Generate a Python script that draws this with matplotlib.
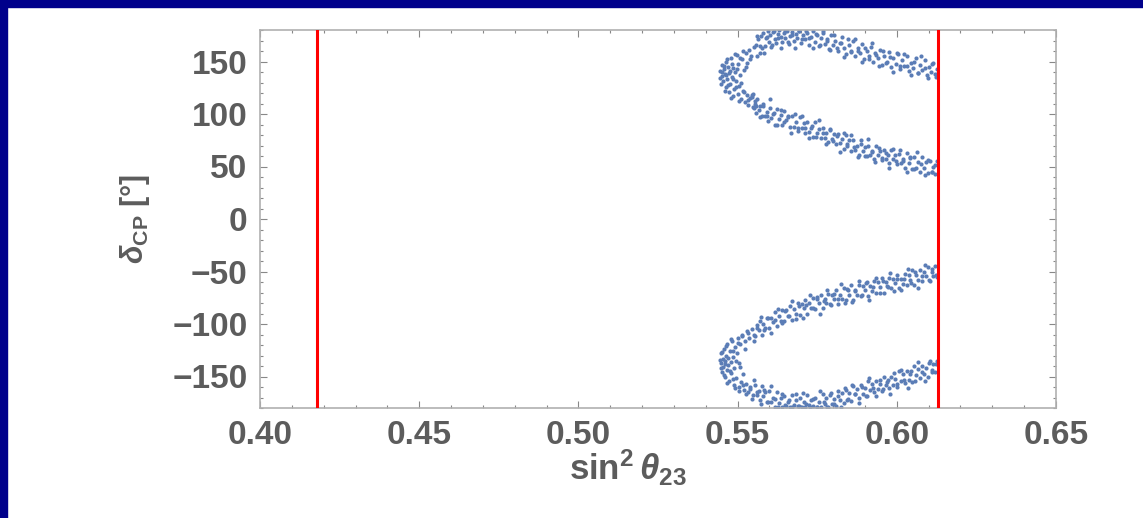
import numpy as np
import matplotlib.pyplot as plt
from matplotlib.patches import Rectangle
from matplotlib.ticker import MultipleLocator, FormatStrFormatter

plt.rcParams['font.family'] = ['Liberation Sans', 'DejaVu Sans']
plt.rcParams['mathtext.fontset'] = 'custom'
plt.rcParams['mathtext.rm'] = 'Liberation Sans:bold'
plt.rcParams['mathtext.it'] = 'Liberation Sans:italic:bold'
plt.rcParams['mathtext.bf'] = 'Liberation Sans:bold'

# bounds of the allowed sin^2(theta23) range (red lines)
bounds = [0.418, 0.613]

# upper band (delta > 0): vertex, upper arm, lower arm  -> (sin2_23, delta_cp)
upper_vertex = [(0.5446, 141), (0.5450, 136), (0.5452, 147), (0.5455, 131), (0.5458, 143), (0.5460, 138),
                (0.5462, 126), (0.5465, 150), (0.5467, 133), (0.5470, 145), (0.5472, 121), (0.5474, 139),
                (0.5477, 129), (0.5480, 153), (0.5482, 135), (0.5484, 117), (0.5487, 144), (0.5490, 124),
                (0.5492, 140), (0.5494, 131), (0.5497, 156), (0.5500, 119), (0.5502, 148), (0.5505, 127),
                (0.5508, 137), (0.5511, 114), (0.5513, 152), (0.5516, 122), (0.5519, 142), (0.5522, 111),
                (0.5525, 158), (0.5528, 118), (0.5531, 149), (0.5534, 109), (0.5537, 161), (0.5540, 115),
                (0.5543, 155), (0.5547, 107), (0.5550, 164), (0.5554, 112),
                (0.5444, 134), (0.5448, 129), (0.5451, 140), (0.5456, 146), (0.5459, 122), (0.5463, 137),
                (0.5468, 152), (0.5471, 128), (0.5476, 141), (0.5479, 115), (0.5483, 148), (0.5486, 133),
                (0.5491, 157), (0.5496, 126), (0.5499, 143), (0.5503, 112), (0.5507, 153), (0.5512, 130),
                (0.5516, 160), (0.5521, 121), (0.5527, 145), (0.5532, 113), (0.5538, 152), (0.5545, 118)]
upper_arm_hi = [(0.5558, 166), (0.5561, 155), (0.5565, 171), (0.5569, 158), (0.5573, 174), (0.5577, 163),
                (0.5581, 177), (0.5585, 165), (0.5590, 172), (0.5594, 179), (0.5598, 169), (0.5603, 175),
                (0.5607, 166), (0.5612, 178), (0.5616, 171), (0.5621, 168), (0.5626, 176), (0.5630, 180),
                (0.5635, 173), (0.5640, 169), (0.5645, 177), (0.5650, 172), (0.5655, 179), (0.5660, 167),
                (0.5665, 174), (0.5671, 178), (0.5676, 170), (0.5682, 176), (0.5688, 172), (0.5694, 179),
                (0.5700, 168), (0.5706, 175), (0.5712, 171), (0.5718, 177), (0.5724, 166), (0.5730, 173),
                (0.5736, 179), (0.5742, 169), (0.5748, 175), (0.5755, 165), (0.5761, 172), (0.5767, 177),
                (0.5774, 167), (0.5780, 171), (0.5787, 162), (0.5793, 175), (0.5800, 166), (0.5807, 170),
                (0.5814, 160), (0.5821, 168), (0.5828, 173), (0.5835, 163), (0.5842, 157), (0.5849, 166),
                (0.5856, 160), (0.5863, 170), (0.5870, 155), (0.5877, 163), (0.5884, 158), (0.5891, 167),
                (0.5898, 152), (0.5905, 160), (0.5912, 155), (0.5919, 164), (0.5926, 150), (0.5933, 158),
                (0.5940, 153), (0.5947, 161), (0.5954, 147), (0.5961, 155), (0.5968, 150), (0.5975, 159),
                (0.5982, 145), (0.5989, 153), (0.5996, 148), (0.6003, 157), (0.6010, 143), (0.6017, 151),
                (0.6024, 146), (0.6031, 155), (0.6038, 141), (0.6045, 149), (0.6052, 144), (0.6059, 153),
                (0.6066, 139), (0.6073, 147), (0.6080, 142), (0.6087, 151), (0.6094, 137), (0.6101, 145),
                (0.6108, 140), (0.6115, 149), (0.6122, 135), (0.6126, 143), (0.6127, 138),
                (0.5560, 174), (0.5571, 165), (0.5582, 158), (0.5593, 173), (0.5604, 164), (0.5615, 179),
                (0.5626, 172), (0.5637, 163), (0.5648, 179), (0.5659, 169), (0.5670, 175), (0.5681, 163),
                (0.5692, 179), (0.5703, 171), (0.5714, 179), (0.5725, 172), (0.5736, 163), (0.5747, 176),
                (0.5758, 166), (0.5769, 179), (0.5780, 170), (0.5791, 161), (0.5802, 175), (0.5813, 163),
                (0.5824, 168), (0.5835, 154), (0.5846, 171), (0.5857, 159), (0.5868, 171), (0.5879, 160),
                (0.5890, 150), (0.5901, 163), (0.5912, 152), (0.5923, 168), (0.5934, 156), (0.5945, 146),
                (0.5956, 160), (0.5967, 149), (0.5978, 154), (0.5989, 140), (0.6000, 158), (0.6011, 146),
                (0.6022, 157), (0.6033, 146), (0.6044, 137), (0.6055, 150), (0.6066, 139), (0.6077, 155),
                (0.6088, 144), (0.6099, 134), (0.6110, 148), (0.6121, 138)]
upper_arm_lo = [(0.5545, 116), (0.5550, 106), (0.5554, 110), (0.5558, 101), (0.5562, 114), (0.5567, 104),
                (0.5571, 108), (0.5576, 98), (0.5581, 108), (0.5586, 98), (0.5591, 102), (0.5596, 93),
                (0.5601, 106), (0.5606, 96), (0.5611, 100), (0.5617, 90), (0.5623, 105), (0.5629, 95),
                (0.5635, 99), (0.5641, 90), (0.5647, 103), (0.5653, 94), (0.5659, 98), (0.5665, 88),
                (0.5671, 98), (0.5677, 88), (0.5683, 92), (0.5689, 84), (0.5695, 97), (0.5701, 87),
                (0.5707, 91), (0.5713, 82), (0.5719, 92), (0.5725, 83), (0.5731, 87), (0.5737, 78),
                (0.5743, 92), (0.5749, 82), (0.5755, 86), (0.5761, 77), (0.5767, 87), (0.5773, 77),
                (0.5779, 82), (0.5785, 73), (0.5791, 86), (0.5797, 76), (0.5803, 81), (0.5809, 71),
                (0.5815, 81), (0.5821, 72), (0.5827, 76), (0.5833, 67), (0.5839, 80), (0.5845, 71),
                (0.5851, 75), (0.5857, 65), (0.5863, 75), (0.5869, 66), (0.5875, 70), (0.5881, 61),
                (0.5887, 75), (0.5893, 65), (0.5899, 69), (0.5905, 60), (0.5911, 70), (0.5917, 61),
                (0.5923, 65), (0.5929, 57), (0.5935, 70), (0.5941, 61), (0.5947, 65), (0.5953, 56),
                (0.5959, 66), (0.5965, 57), (0.5971, 61), (0.5977, 53), (0.5983, 66), (0.5989, 57),
                (0.5995, 61), (0.6001, 52), (0.6007, 62), (0.6013, 53), (0.6019, 57), (0.6025, 49),
                (0.6031, 63), (0.6037, 53), (0.6043, 58), (0.6049, 48), (0.6055, 59), (0.6061, 49),
                (0.6067, 54), (0.6073, 45), (0.6079, 59), (0.6085, 49), (0.6091, 54), (0.6097, 44),
                (0.6103, 55), (0.6109, 45), (0.6115, 50), (0.6121, 43), (0.6126, 55),
                (0.5548, 119), (0.5559, 108), (0.5570, 97), (0.5581, 110), (0.5592, 98), (0.5603, 114),
                (0.5614, 101), (0.5625, 90), (0.5636, 104), (0.5647, 92), (0.5658, 97), (0.5669, 82),
                (0.5680, 100), (0.5691, 87), (0.5702, 98), (0.5713, 87), (0.5724, 77), (0.5735, 89),
                (0.5746, 78), (0.5757, 94), (0.5768, 82), (0.5779, 71), (0.5790, 85), (0.5801, 74),
                (0.5812, 79), (0.5823, 64), (0.5834, 82), (0.5845, 70), (0.5856, 80), (0.5867, 69),
                (0.5878, 59), (0.5889, 71), (0.5900, 60), (0.5911, 76), (0.5922, 64), (0.5933, 54),
                (0.5944, 68), (0.5955, 58), (0.5966, 63), (0.5977, 49), (0.5988, 67), (0.5999, 55),
                (0.6010, 66), (0.6021, 55), (0.6032, 45), (0.6043, 59), (0.6054, 48), (0.6065, 64),
                (0.6076, 52), (0.6087, 42), (0.6098, 56), (0.6109, 45), (0.6120, 51)]

# lower band (delta < 0)
lower_vertex = [(0.5447, -137), (0.5449, -128), (0.5451, -146), (0.5453, -133), (0.5455, -141), (0.5457, -124),
                (0.5459, -150), (0.5461, -135), (0.5463, -130), (0.5466, -144), (0.5468, -119), (0.5470, -139),
                (0.5473, -154), (0.5475, -126), (0.5478, -136), (0.5480, -147), (0.5483, -116), (0.5485, -131),
                (0.5488, -158), (0.5490, -142), (0.5493, -122), (0.5495, -151), (0.5498, -128), (0.5500, -113),
                (0.5503, -160), (0.5505, -137), (0.5508, -119), (0.5511, -155), (0.5514, -110), (0.5517, -148),
                (0.5520, -163), (0.5523, -116), (0.5526, -157), (0.5530, -107), (0.5533, -165), (0.5536, -113),
                (0.5540, -160), (0.5544, -105), (0.5548, -168), (0.5552, -110),
                (0.5444, -134), (0.5448, -142), (0.5452, -127), (0.5456, -149), (0.5459, -138), (0.5463, -121),
                (0.5467, -156), (0.5471, -132), (0.5476, -145), (0.5479, -114), (0.5484, -152), (0.5487, -126),
                (0.5492, -161), (0.5496, -135), (0.5500, -118), (0.5505, -164), (0.5509, -141), (0.5513, -111),
                (0.5518, -158), (0.5522, -124), (0.5527, -167), (0.5532, -109), (0.5538, -162), (0.5545, -171)]
lower_arm_hi = [(0.5556, -111), (0.5561, -101), (0.5566, -106), (0.5571, -97), (0.5576, -110), (0.5581, -100),
                (0.5587, -104), (0.5593, -94), (0.5599, -104), (0.5605, -94), (0.5611, -98), (0.5617, -89),
                (0.5623, -102), (0.5629, -92), (0.5635, -97), (0.5641, -87), (0.5647, -97), (0.5653, -87),
                (0.5659, -92), (0.5665, -83), (0.5671, -96), (0.5677, -86), (0.5683, -90), (0.5689, -80),
                (0.5695, -91), (0.5701, -81), (0.5707, -85), (0.5713, -77), (0.5719, -90), (0.5725, -80),
                (0.5731, -85), (0.5737, -75), (0.5743, -86), (0.5749, -76), (0.5755, -80), (0.5761, -72),
                (0.5767, -85), (0.5773, -76), (0.5779, -80), (0.5785, -71), (0.5791, -81), (0.5797, -72),
                (0.5803, -76), (0.5809, -68), (0.5815, -81), (0.5821, -72), (0.5827, -76), (0.5833, -66),
                (0.5839, -77), (0.5845, -67), (0.5851, -72), (0.5857, -63), (0.5863, -77), (0.5869, -68),
                (0.5875, -72), (0.5881, -63), (0.5887, -73), (0.5893, -64), (0.5899, -68), (0.5905, -60),
                (0.5911, -73), (0.5917, -64), (0.5923, -69), (0.5929, -59), (0.5935, -70), (0.5941, -60),
                (0.5947, -65), (0.5953, -56), (0.5959, -70), (0.5965, -60), (0.5971, -65), (0.5977, -56),
                (0.5983, -66), (0.5989, -57), (0.5995, -61), (0.6001, -53), (0.6007, -66), (0.6013, -57),
                (0.6019, -62), (0.6025, -52), (0.6031, -63), (0.6037, -53), (0.6043, -58), (0.6049, -49),
                (0.6055, -63), (0.6061, -53), (0.6067, -58), (0.6073, -49), (0.6079, -59), (0.6085, -50),
                (0.6091, -54), (0.6097, -46), (0.6103, -59), (0.6109, -50), (0.6115, -54), (0.6121, -45),
                (0.6126, -55),
                (0.5550, -116), (0.5561, -104), (0.5572, -93), (0.5583, -106), (0.5594, -94), (0.5605, -109),
                (0.5616, -96), (0.5627, -86), (0.5638, -99), (0.5649, -88), (0.5660, -92), (0.5671, -78),
                (0.5682, -95), (0.5693, -83), (0.5704, -94), (0.5715, -82), (0.5726, -72), (0.5737, -85),
                (0.5748, -74), (0.5759, -90), (0.5770, -78), (0.5781, -68), (0.5792, -82), (0.5803, -71),
                (0.5814, -76), (0.5825, -62), (0.5836, -80), (0.5847, -68), (0.5858, -79), (0.5869, -69),
                (0.5880, -59), (0.5891, -72), (0.5902, -61), (0.5913, -77), (0.5924, -65), (0.5935, -56),
                (0.5946, -70), (0.5957, -59), (0.5968, -64), (0.5979, -51), (0.5990, -69), (0.6001, -57),
                (0.6012, -68), (0.6023, -57), (0.6034, -48), (0.6045, -61), (0.6056, -50), (0.6067, -66),
                (0.6078, -54), (0.6089, -44), (0.6100, -58), (0.6111, -48), (0.6122, -53)]
lower_arm_lo = [(0.5556, -158), (0.5561, -168), (0.5566, -164), (0.5571, -172), (0.5576, -159), (0.5581, -169),
                (0.5587, -165), (0.5593, -174), (0.5599, -164), (0.5605, -174), (0.5611, -170), (0.5617, -179),
                (0.5623, -165), (0.5629, -175), (0.5635, -170), (0.5641, -179), (0.5647, -169), (0.5653, -178),
                (0.5659, -174), (0.5665, -179), (0.5671, -168), (0.5677, -177), (0.5683, -172), (0.5689, -178),
                (0.5695, -170), (0.5701, -179), (0.5707, -174), (0.5713, -179), (0.5719, -168), (0.5725, -177),
                (0.5731, -172), (0.5737, -178), (0.5743, -170), (0.5749, -179), (0.5755, -174), (0.5761, -179),
                (0.5767, -167), (0.5773, -176), (0.5779, -170), (0.5785, -179), (0.5791, -168), (0.5797, -176),
                (0.5803, -171), (0.5809, -178), (0.5815, -164), (0.5821, -172), (0.5827, -166), (0.5833, -175),
                (0.5839, -163), (0.5845, -172), (0.5851, -166), (0.5857, -173), (0.5863, -159), (0.5869, -167),
                (0.5875, -162), (0.5881, -170), (0.5887, -158), (0.5893, -167), (0.5899, -161), (0.5905, -169),
                (0.5911, -154), (0.5917, -163), (0.5923, -157), (0.5929, -165), (0.5935, -154), (0.5941, -162),
                (0.5947, -157), (0.5953, -164), (0.5959, -150), (0.5965, -158), (0.5971, -153), (0.5977, -161),
                (0.5983, -150), (0.5989, -158), (0.5995, -152), (0.6001, -160), (0.6007, -145), (0.6013, -154),
                (0.6019, -148), (0.6025, -156), (0.6031, -145), (0.6037, -153), (0.6043, -148), (0.6049, -155),
                (0.6055, -140), (0.6061, -149), (0.6067, -143), (0.6073, -151), (0.6079, -140), (0.6085, -148),
                (0.6091, -142), (0.6097, -150), (0.6103, -135), (0.6109, -144), (0.6115, -138), (0.6121, -146),
                (0.6126, -135),
                (0.5550, -153), (0.5561, -165), (0.5572, -176), (0.5583, -163), (0.5594, -174), (0.5605, -159),
                (0.5616, -171), (0.5627, -179), (0.5638, -167), (0.5649, -177), (0.5660, -172), (0.5671, -179),
                (0.5682, -167), (0.5693, -178), (0.5704, -166), (0.5715, -176), (0.5726, -179), (0.5737, -171),
                (0.5748, -179), (0.5759, -164), (0.5770, -174), (0.5781, -179), (0.5792, -166), (0.5803, -176),
                (0.5814, -169), (0.5825, -179), (0.5836, -161), (0.5847, -171), (0.5858, -158), (0.5869, -167),
                (0.5880, -175), (0.5891, -160), (0.5902, -169), (0.5913, -151), (0.5924, -161), (0.5935, -169),
                (0.5946, -153), (0.5957, -162), (0.5968, -155), (0.5979, -167), (0.5990, -147), (0.6001, -157),
                (0.6012, -144), (0.6023, -153), (0.6034, -161), (0.6045, -145), (0.6056, -154), (0.6067, -136),
                (0.6078, -146), (0.6089, -154), (0.6100, -137), (0.6111, -146), (0.6122, -138)]

x_ticks = [0.40, 0.45, 0.50, 0.55, 0.60, 0.65]
y_ticks = [-150, -100, -50, 0, 50, 100, 150]

grey = '#5c5c5c'
frame = '#b0b0b0'

fig = plt.figure(figsize=(11.43, 5.18), dpi=100)
ax = fig.add_axes([260 / 1143, 110 / 518, 796 / 1143, 378 / 518])

pts = np.array(upper_vertex + upper_arm_hi + upper_arm_lo + lower_vertex + lower_arm_hi + lower_arm_lo)
ax.scatter(pts[:, 0], pts[:, 1], s=9, color='#5b7db6', linewidths=0, zorder=2)

for b in bounds:
    ax.axvline(b, color='#ff0000', lw=2.2, zorder=3)

ax.set_xlim(0.40, 0.65)
ax.set_ylim(-180, 180)
ax.set_xticks(x_ticks)
ax.set_yticks(y_ticks)
ax.xaxis.set_major_formatter(FormatStrFormatter('%.2f'))
ax.xaxis.set_minor_locator(MultipleLocator(0.01))
ax.yaxis.set_minor_locator(MultipleLocator(10))

ax.tick_params(which='both', direction='in', top=True, right=True, color='#888888', width=0.8)
ax.tick_params(which='major', length=5, labelsize=24, labelcolor=grey, pad=9)
ax.tick_params(which='minor', length=2.5)
for lab in ax.get_xticklabels() + ax.get_yticklabels():
    lab.set_fontweight('bold')
for sp in ax.spines.values():
    sp.set_color(frame)
    sp.set_linewidth(1.2)

ax.set_xlabel(r'sin$^{2}\,\theta_{23}$', fontsize=25, color=grey, fontweight='bold')
ax.xaxis.set_label_coords((628 - 260) / 796, -0.105)
ax.set_ylabel(r'$\delta_{\rm CP}$ [°]', fontsize=22, color=grey, fontweight='bold')
ax.yaxis.set_label_coords((152 - 260) / 796, 0.5)

# navy frame of the slide
fig.patches.append(Rectangle((0, 1 - 7 / 518), 1, 7 / 518, transform=fig.transFigure,
                             color='#00008b', zorder=10))
fig.patches.append(Rectangle((0, 0), 7 / 1143, 1, transform=fig.transFigure,
                             color='#00008b', zorder=10))

fig.savefig('out.png', dpi=100)
